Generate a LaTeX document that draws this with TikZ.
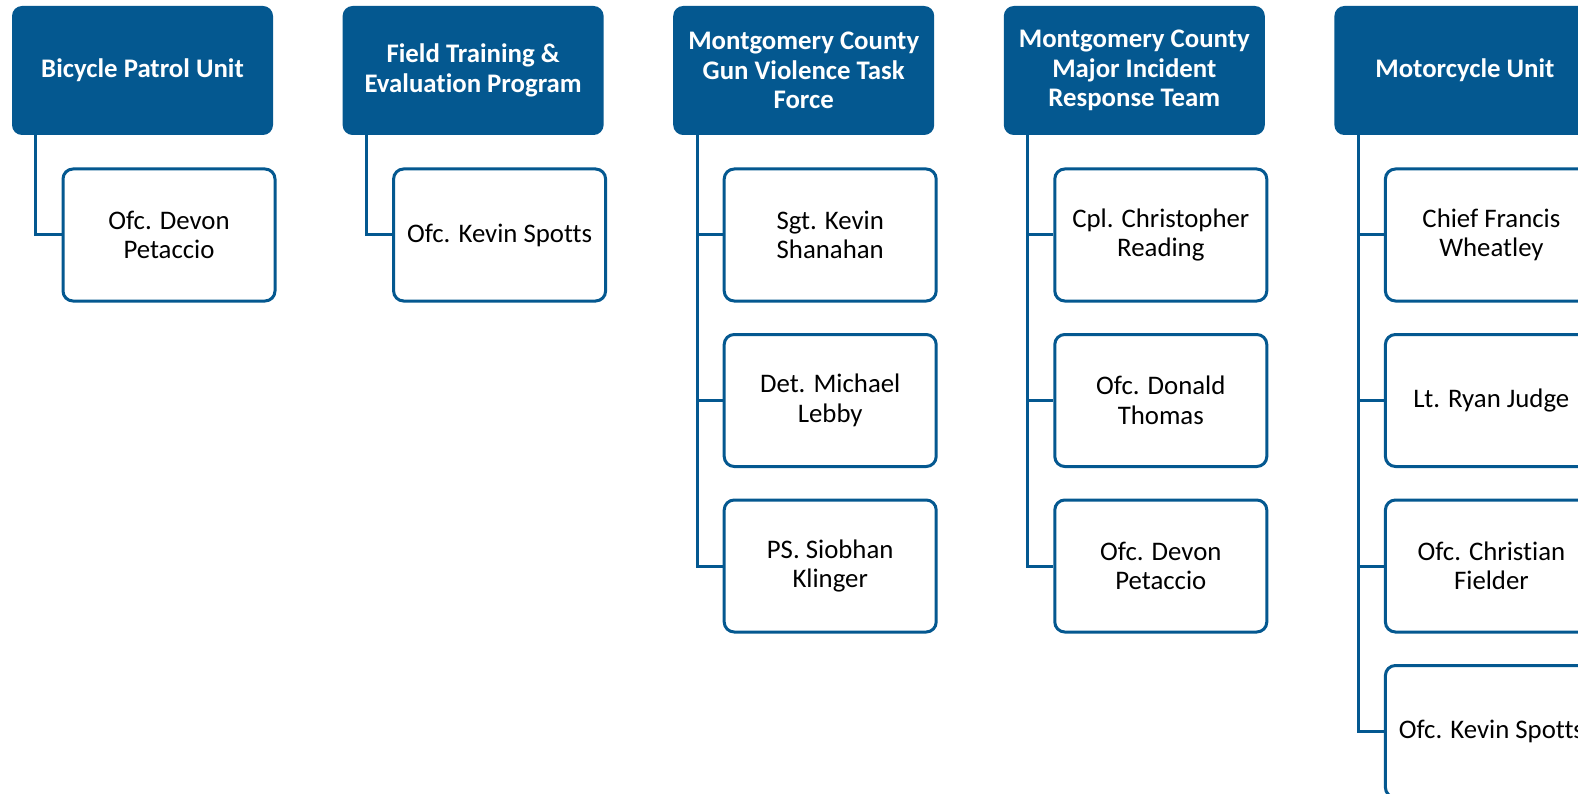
\documentclass[tikz,border=0pt]{standalone}
\usepackage{fontspec}
\setmainfont{Carlito}[Ligatures=NoCommon]
\definecolor{hblue}{RGB}{4,88,144}
\begin{document}
\begin{tikzpicture}[x=1pt,y=-1pt,
  head/.style={fill=hblue,draw=none,rounded corners=10pt,minimum width=261pt,minimum height=129pt,
    text=white,font=\fontsize{26.8}{29.5}\selectfont\bfseries,align=center,inner sep=0pt},
  member/.style={draw=hblue,line width=3pt,fill=white,rounded corners=10pt,minimum width=212pt,minimum height=132pt,
    text=black,font=\fontsize{26.8}{29.5}\selectfont,align=center,inner sep=0pt},
  link/.style={draw=hblue,line width=3pt}]
\useasboundingbox (0,0) rectangle (1578,794);
\clip (0,0) rectangle (1578,794);
\fill[white] (0,0) rectangle (1578,794);
% headers
\node[head] (h1) at (142.5,70.5) {Bicycle Patrol Unit};
\node[head] (h2) at (473.1,70.5) {Field Training \&\\Evaluation Program};
\node[head] (h3) at (803.7,70.5) {Montgomery County\\Gun Violence Task\\Force};
\node[head] (h4) at (1134.3,70.5) {Montgomery County\\Major Incident\\Response Team};
\node[head] (h5) at (1464.9,70.5) {Motorcycle Unit};
% members
\node[member] (c11) at (169,235) {Ofc. Devon\\Petaccio};
\node[member] (c21) at (499.6,235) {Ofc. Kevin Spotts};
\node[member] (c31) at (830.2,235) {Sgt. Kevin\\Shanahan};
\node[member] (c32) at (830.2,400.5) {Det. Michael\\Lebby};
\node[member] (c33) at (830.2,566) {PS. Siobhan\\Klinger};
\node[member] (c41) at (1160.8,235) {Cpl. Christopher\\Reading};
\node[member] (c42) at (1160.8,400.5) {Ofc. Donald\\Thomas};
\node[member] (c43) at (1160.8,566) {Ofc. Devon\\Petaccio};
\node[member] (c51) at (1491.4,235) {Chief Francis\\Wheatley};
\node[member] (c52) at (1491.4,400.5) {Lt. Ryan Judge};
\node[member] (c53) at (1491.4,566) {Ofc. Christian\\Fielder};
\node[member] (c54) at (1491.4,731.5) {Ofc. Kevin Spotts};
% connectors
\foreach \h/\c in {h1/c11,h2/c21,h3/c31,h3/c32,h3/c33,h4/c41,h4/c42,h4/c43,h5/c51,h5/c52,h5/c53,h5/c54}
  \draw[link] ([xshift=24pt]\h.south west) |- (\c.west);
\end{tikzpicture}
\end{document}
